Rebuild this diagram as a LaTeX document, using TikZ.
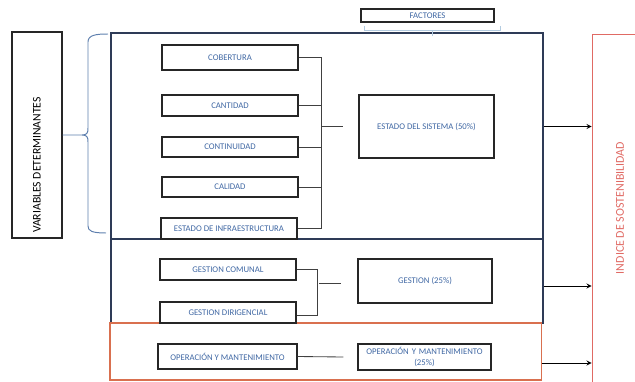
\documentclass[tikz,border=0pt]{standalone}
\usepackage{fontspec}
\setmainfont{Carlito}
\usepackage{tikz}
\usetikzlibrary{arrows, calc}
\definecolor{vdnavy}{HTML}{2E3B57}
\definecolor{vdtext}{HTML}{3F67A3}
\definecolor{vdorange}{HTML}{D9704F}
\definecolor{vdred}{HTML}{E06A64}
\definecolor{vdbrace}{HTML}{5E7FAE}
\definecolor{vdfaint}{HTML}{B3CBE0}
\tikzstyle{varbox}=[rectangle, draw=black!85, line width=0.9pt, text=vdtext, inner sep=0pt, minimum width=3.4cm, minimum height=0.525cm, font=\fontsize{6.2}{7.4}\selectfont]
\tikzstyle{factbox}=[varbox, text width=3.3cm, align=center]
\tikzstyle{frame}=[rectangle, line width=1pt, inner sep=0pt, minimum width=10.8cm]
\tikzstyle{link}=[draw=black!75, line width=0.6pt]
\tikzstyle{arrow}=[line width=0.6pt, ->, >=stealth]

\begin{document}
\begin{tikzpicture}[x=0.025cm, y={(0cm,-0.025cm)}]
    \useasboundingbox (0,0) rectangle (635,381);
    \clip (0,0) rectangle (635,381);

    % marcos
    \node[frame, draw=vdnavy, minimum height=5.15cm] (marcosis) at (327,136) {};
    \node[frame, draw=vdnavy, minimum height=2.1cm] (marcoges) at (327,281) {};
    \node[frame, draw=vdorange, line width=0.8pt, minimum width=10.775cm, minimum height=1.425cm] (marcoope) at (325.5,351.5) {};
    \node[rectangle, draw=vdred, line width=0.6pt, minimum width=1.4cm, minimum height=8.7cm, text=vdred, font=\fontsize{8.5}{10}\selectfont] (indice) at (620,208) {\rotatebox{90}{INDICE DE SOSTENIBILIDAD}};
    \node[rectangle, draw=black!85, line width=1pt, minimum width=1.25cm, minimum height=5.15cm, font=\fontsize{8.3}{10}\selectfont] (vardet) at (37,135) {\rotatebox{90}{VARIABLES DETERMINANTES\hspace*{1.5cm}}};
    \node[varbox, minimum width=3.325cm, minimum height=0.325cm] (factores) at (427.5,15.5) {FACTORES};

    % variables
    \node[varbox, minimum height=0.625cm] (cobertura) at (230,57.5) {COBERTURA};
    \node[varbox] (cantidad) at (230,105.5) {CANTIDAD};
    \node[varbox, minimum height=0.5cm] (continuidad) at (230,147) {CONTINUIDAD};
    \node[varbox, minimum height=0.5cm] (calidad) at (230,187) {CALIDAD};
    \node[varbox] (infra) at (229,228.5) {ESTADO DE INFRAESTRUCTURA};
    \node[varbox] (gcomunal) at (228,269.5) {GESTION COMUNAL};
    \node[varbox] (gdirig) at (228,312.5) {GESTION DIRIGENCIAL};
    \node[varbox, minimum width=3.475cm, minimum height=0.625cm] (opera) at (227.5,356.5) {OPERACIÓN Y MANTENIMIENTO};

    % factores
    \node[varbox, minimum width=3.375cm, minimum height=1.575cm] (estado) at (426.5,126.5) {ESTADO DEL SISTEMA (50\%)};
    \node[varbox, minimum width=3.35cm, minimum height=1.1cm] (gestion) at (425,281) {GESTION (25\%)};
    \node[factbox, minimum width=3.325cm, minimum height=0.65cm] (operapct) at (424.5,357) {OPERACIÓN Y MANTENIMIENTO\\(25\%)};

    % llaves
    \draw[vdbrace, line width=0.7pt] (108,34) .. controls (96,34) and (88,35) .. (88,42) -- (88,128)
        .. controls (88,133) and (87,135) .. (82,135) -- (vardet.east) -- (82,135)
        .. controls (87,135) and (88,137) .. (88,142) -- (88,226)
        .. controls (88,231) and (92,233) .. (106,233);
    \draw[vdfaint, line width=0.5pt] (364,26) -- (364,30) -- (500,30) -- (500,26) (432,30) -- (432,36);

    % conectores
    \coordinate (bsis) at (321,0);
    \foreach \n in {cobertura,cantidad,continuidad,calidad,infra}
        \draw[link] (\n.east) -- (\n.east -| bsis);
    \draw[link] (cobertura.east -| bsis) -- (infra.east -| bsis);
    \draw[link] ($(estado.west)+(-36,0)$) -- ($(estado.west)+(-15,0)$);

    \draw[link] (gcomunal.east) -| (317,315) -- (gdirig.east |- 0,315);
    \draw[link] ($(gestion.west)+(-38,2)$) -- ($(gestion.west)+(-16,2)$);

    \draw[link] (opera.east) -- ($(operapct.west)+(-14,0)$);

    \draw[arrow] (marcosis.east |- estado) -- (indice.west |- estado);
    \draw[arrow] ([yshift=-0.125cm]marcoges.east |- gestion) -- ([yshift=-0.125cm]indice.west |- gestion);
    \draw[arrow] ([yshift=-0.15cm]marcoope.east |- operapct) -- ([yshift=-0.15cm]indice.west |- operapct);
\end{tikzpicture}
\end{document}
